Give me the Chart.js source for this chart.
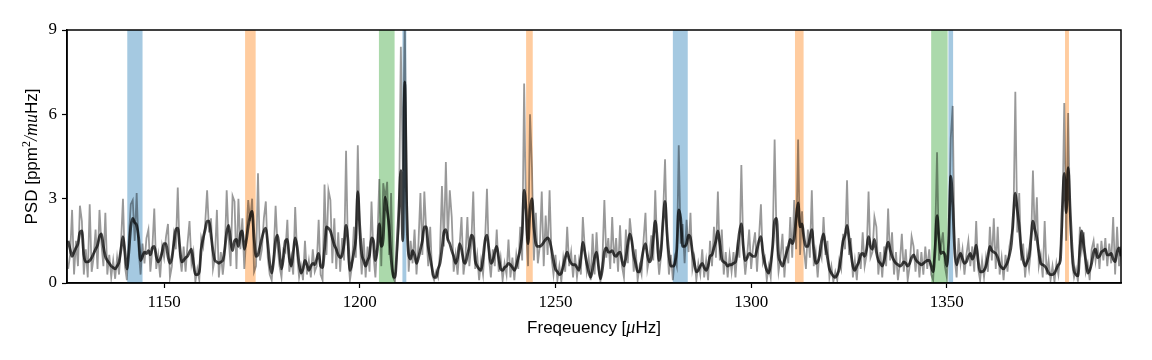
<!DOCTYPE html>
<html>
<head>
<meta charset="utf-8">
<script src="https://cdn.jsdelivr.net/npm/chart.js@4"></script>
<style>
  body { margin: 0; background: #fff; }
  canvas { display: block; }
</style>
</head>
<body>
<canvas id="psdChart" width="1152" height="360"></canvas>
<script>
// frequency grid of the spectrum (uHz)
const freqStart = 1125.5;
const freqStep = 0.5;

// raw PSD, one row per 10 uHz
const rawPsd = [
  0.5, 1.0, 2.6, 0.3, 1.5, 0.6, 2.75, 2.2, 0.3, 1.2, 0.2, 2.8, 0.4, 0.9, 1.9, 0.5, 2.6, 1.4, 0.6, 2.5,
  0.3, 1.0, 0.2, 0.8, 0.15, 0.9, 0.3, 1.4, 3.0, 0.6, 0.1, 1.6, 2.8, 2.95, 1.5, 3.2, 1.2, 0.3, 1.4, 0.7,
  1.6, 1.9, 0.4, 1.2, 2.65, 0.5, 1.0, 0.2, 1.3, 0.9, 1.65, 2.1, 0.2, 0.6, 1.7, 1.2, 3.4, 1.0, 0.4, 1.3,
  0.4, 1.4, 2.2, 0.7, 1.1, 0.05, 0.5, 0.1, 1.6, 1.3, 2.1, 3.3, 1.8, 2.3, 0.5, 0.9, 2.6, 0.2, 1.1, 0.3,
  1.0, 3.3, 1.6, 0.6, 3.1, 2.9, 0.5, 3.0, 1.2, 2.3, 0.5, 1.6, 2.95, 2.2, 3.0, 0.4, 0.6, 3.9, 0.8, 1.2,
  2.3, 2.9, 0.9, 0.3, 0.1, 1.0, 2.75, 1.3, 0.6, 0.2, 1.2, 1.1, 2.25, 0.4, 0.9, 0.3, 2.7, 1.0, 0.2, 0.6,
  0.1, 1.5, 0.3, 0.8, 0.2, 1.2, 0.4, 0.6, 2.25, 0.3, 0.1, 3.5, 1.0, 3.3, 2.95, 0.7, 2.3, 0.5, 1.8, 0.4,
  1.6, 0.8, 4.7, 1.0, 0.1, 0.6, 2.0, 0.9, 4.9, 1.5, 0.3, 1.6, 0.2, 1.3, 0.4, 2.9, 1.0, 0.2, 1.5, 3.7,
  0.6, 3.55, 3.0, 3.6, 1.0, 3.2, 0.2, 0.05, 1.0, 2.0, 8.4, 4.0, 9.3, 3.5, 0.4, 1.5, 0.7, 1.9, 0.3, 1.4,
  3.2, 1.0, 3.25, 1.8, 0.6, 2.0, 0.3, 0.1, 0.4, 0.2, 1.1, 3.45, 1.3, 4.3, 1.5, 3.3, 2.35, 0.4, 1.0, 0.3,
  1.3, 2.35, 0.3, 0.9, 2.35, 0.6, 1.4, 3.25, 0.5, 1.0, 0.1, 0.8, 0.3, 1.4, 3.35, 0.9, 0.2, 1.2, 0.6, 1.9,
  0.4, 0.9, 0.1, 0.7, 0.3, 1.55, 0.2, 0.9, 0.1, 1.0, 0.5, 2.0, 0.8, 7.1, 2.0, 0.6, 6.0, 4.1, 0.8, 2.5,
  0.7, 1.3, 3.25, 0.6, 2.4, 1.0, 3.3, 0.9, 0.3, 1.0, 0.1, 0.6, 0.05, 0.9, 0.4, 2.0, 0.6, 1.1, 0.2, 1.0,
  0.2, 0.8, 0.3, 2.35, 1.2, 0.4, 0.9, 0.1, 1.75, 0.3, 1.8, 0.5, 0.05, 0.8, 2.95, 0.9, 1.6, 0.5, 2.35, 0.7,
  1.6, 0.4, 2.05, 0.6, 0.2, 1.9, 0.7, 2.3, 1.6, 0.4, 1.2, 0.1, 0.6, 0.3, 1.5, 2.5, 0.5, 0.9, 1.7, 0.8,
  3.3, 1.2, 0.3, 1.0, 2.4, 4.4, 1.5, 0.3, 1.0, 0.1, 0.9, 0.6, 4.9, 1.4, 2.1, 0.7, 2.25, 1.1, 2.5, 0.5,
  0.9, 0.1, 0.7, 0.3, 1.2, 0.2, 0.8, 0.1, 1.5, 0.6, 2.0, 0.9, 3.25, 0.8, 1.9, 0.3, 1.1, 0.2, 1.0, 0.4,
  1.1, 0.2, 1.3, 0.9, 4.2, 1.2, 0.3, 1.0, 1.9, 0.5, 1.3, 1.8, 0.4, 1.6, 2.8, 0.7, 0.9, 0.1, 0.6, 0.2,
  1.4, 5.1, 1.5, 0.4, 0.9, 1.75, 0.2, 1.3, 0.7, 2.35, 0.9, 2.95, 1.2, 5.1, 1.0, 2.55, 1.2, 0.5, 1.9, 0.9,
  3.3, 0.6, 1.1, 0.2, 1.2, 0.9, 2.35, 1.0, 1.5, 0.2, 0.6, 0.05, 0.4, 0.1, 0.8, 0.5, 1.75, 1.2, 3.65, 1.0,
  1.6, 0.2, 0.8, 0.1, 1.1, 0.5, 1.8, 0.6, 1.0, 3.25, 0.9, 1.1, 2.35, 2.0, 0.3, 1.1, 0.2, 1.3, 0.6, 2.65,
  0.8, 1.8, 0.3, 1.1, 0.1, 0.7, 1.75, 0.4, 1.2, 0.1, 0.6, 1.65, 1.3, 0.4, 1.2, 0.2, 1.1, 0.3, 1.3, 0.5,
  1.2, 0.3, 0.1, 1.5, 4.65, 0.8, 1.3, 1.8, 0.6, 0.2, 1.5, 5.15, 6.3, 0.9, 0.2, 1.6, 0.7, 1.2, 0.3, 1.0,
  1.5, 0.6, 1.3, 0.4, 2.2, 0.5, 0.1, 0.8, 0.2, 0.9, 0.4, 2.0, 0.8, 2.3, 0.5, 2.0, 0.3, 0.9, 0.1, 1.0,
  0.4, 1.3, 1.7, 2.0, 6.8, 1.8, 3.2, 0.8, 1.4, 0.2, 1.0, 0.5, 1.2, 4.0, 1.5, 3.05, 0.6, 1.0, 0.2, 2.2,
  0.3, 0.8, 0.1, 0.6, 0.05, 0.7, 0.3, 1.1, 2.0, 6.4, 1.5, 6.05, 2.2, 0.7, 0.2, 0.5, 0.05, 2.0, 1.2, 1.8,
  0.4, 0.7, 0.1, 1.2, 1.5, 0.8, 1.4, 0.5, 1.5, 0.8, 1.6, 0.6, 1.4, 0.7, 2.35, 0.3, 2.0, 0.6, 1.3
];

// smoothed PSD on the same grid
const smoothPsd = [
  1.5, 1.2, 0.95, 1.1, 1.25, 1.4, 1.8, 1.85, 1.0, 0.75, 0.75, 0.8, 0.9, 1.05, 1.2, 1.35, 1.65, 1.75, 1.3, 0.95,
  0.8, 0.7, 0.6, 0.55, 0.5, 0.6, 0.75, 1.2, 1.65, 1.1, 0.5, 1.1, 2.0, 2.3, 2.15, 2.05, 1.6, 0.8, 0.95, 1.1,
  1.05, 1.15, 1.0, 1.25, 1.3, 0.95, 0.75, 0.85, 1.1, 1.4, 1.4, 0.95, 0.7, 0.9, 1.4, 1.9, 1.95, 1.3, 0.75, 0.8,
  0.9, 0.95, 1.1, 1.2, 0.7, 0.3, 0.3, 0.4, 1.2, 1.6, 1.9, 2.2, 2.2, 1.7, 1.15, 0.8, 0.75, 0.7, 0.75, 0.8,
  1.2, 1.8, 2.05, 1.5, 1.15, 1.5, 1.55, 1.3, 1.75, 1.85, 1.2, 1.5, 2.0, 2.4, 2.55, 1.6, 0.95, 1.0, 1.3, 1.6,
  1.85, 1.95, 1.4, 0.7, 0.35, 0.8, 1.5, 1.7, 1.1, 0.5, 0.9, 1.5, 1.55, 0.9, 0.6, 1.1, 1.6, 1.3, 0.7, 0.35,
  0.5, 0.8, 0.65, 0.45, 0.6, 0.7, 0.65, 0.85, 1.05, 0.6, 0.55, 1.2, 2.0, 1.95, 1.85, 1.6, 1.35, 1.2, 1.0, 0.9,
  1.0, 1.4, 2.05, 1.5, 0.45, 0.7, 1.1, 1.6, 3.25, 2.0, 1.05, 0.8, 0.6, 0.8, 1.0, 1.6, 1.5, 0.8, 1.2, 2.1,
  1.3, 1.6, 3.05, 2.6, 2.0, 0.9, 0.3, 0.2, 1.2, 2.6, 4.0, 1.5, 7.15, 2.6, 1.0, 0.85, 1.15, 1.0, 0.7, 0.9,
  1.2, 1.5, 2.0, 2.0, 1.3, 0.9, 0.5, 0.2, 0.2, 0.5, 0.7, 1.2, 1.8, 1.9, 1.55, 1.4, 1.15, 0.95, 0.7, 0.9,
  1.4, 1.2, 0.8, 0.7, 1.0, 1.3, 1.7, 1.6, 0.8, 0.6, 0.5, 0.45, 0.9, 1.5, 1.7, 1.2, 0.7, 0.8, 1.1, 1.3,
  0.9, 0.5, 0.45, 0.55, 0.6, 0.7, 0.65, 0.55, 0.45, 0.6, 0.9, 1.2, 1.8, 3.3, 2.6, 1.4, 2.6, 3.0, 2.0, 1.4,
  1.3, 1.3, 1.35, 1.45, 1.55, 1.6, 1.5, 1.2, 0.8, 0.5, 0.4, 0.3, 0.35, 0.6, 0.9, 1.1, 0.85, 0.7, 0.65, 0.65,
  0.55, 0.45, 0.9, 1.45, 1.1, 0.7, 0.4, 0.2, 0.5, 0.9, 1.1, 0.6, 0.15, 0.5, 1.1, 1.25, 1.1, 1.1, 1.15, 1.0,
  0.95, 1.05, 1.1, 0.8, 0.6, 0.9, 1.4, 1.75, 1.5, 1.0, 0.7, 0.4, 0.4, 0.8, 1.2, 1.4, 1.0, 0.75, 0.9, 1.6,
  2.2, 1.6, 0.8, 1.2, 2.2, 2.9, 1.8, 1.0, 0.6, 0.6, 0.7, 1.2, 2.6, 2.3, 1.3, 1.3, 1.4, 1.7, 1.6, 1.1,
  0.7, 0.4, 0.45, 0.6, 0.7, 0.55, 0.45, 0.6, 0.95, 1.0, 1.25, 1.5, 1.85, 1.4, 0.85, 0.75, 0.7, 0.6, 0.65, 0.65,
  0.7, 0.75, 1.2, 1.8, 2.1, 1.3, 0.8, 0.9, 1.05, 1.0, 0.95, 0.95, 1.2, 1.5, 1.65, 1.1, 0.7, 0.45, 0.35, 0.7,
  1.3, 2.2, 2.3, 1.0, 0.75, 0.6, 0.8, 1.05, 1.3, 1.55, 1.4, 1.6, 2.3, 2.85, 2.0, 2.1, 1.6, 1.3, 1.3, 1.6,
  1.9, 1.2, 0.7, 0.75, 1.0, 1.5, 1.75, 1.3, 0.9, 0.5, 0.35, 0.25, 0.2, 0.3, 0.5, 1.0, 1.5, 1.7, 2.05, 1.6,
  1.05, 0.6, 0.45, 0.6, 0.75, 1.0, 1.05, 0.95, 1.2, 1.65, 1.3, 1.2, 1.55, 1.1, 0.8, 0.7, 0.6, 0.8, 1.2, 1.45,
  1.2, 0.95, 0.8, 0.7, 0.65, 0.6, 0.65, 0.75, 0.7, 0.6, 0.7, 0.9, 1.0, 0.85, 0.75, 0.7, 0.65, 0.7, 0.75, 0.8,
  0.8, 0.6, 0.4, 1.2, 2.4, 1.6, 1.05, 1.1, 1.0, 0.6, 1.6, 3.8, 2.8, 1.2, 0.65, 0.9, 1.05, 0.85, 0.7, 0.75,
  0.95, 1.05, 0.85, 1.0, 1.35, 0.8, 0.4, 0.4, 0.45, 0.6, 0.95, 1.3, 1.15, 1.1, 1.05, 0.9, 0.65, 0.55, 0.5, 0.6,
  0.75, 1.0, 1.4, 2.4, 3.2, 2.6, 2.0, 1.2, 0.8, 0.6, 0.75, 0.95, 1.6, 2.2, 1.9, 1.6, 1.1, 0.7, 0.65, 0.6,
  0.5, 0.35, 0.3, 0.3, 0.35, 0.5, 0.65, 0.8, 2.6, 3.9, 2.5, 4.1, 2.6, 1.2, 0.45, 0.3, 0.25, 1.2, 1.85, 1.3,
  0.8, 0.35, 0.45, 0.7, 1.1, 1.2, 0.9, 0.95, 1.1, 1.15, 1.2, 1.0, 1.0, 1.05, 0.85, 0.75, 1.1, 1.25, 0.95
];

// shaded mode regions (uHz)
const bandStart = [1140.6, 1170.7, 1204.9, 1210.9, 1242.5, 1280.0, 1311.2, 1346.0, 1350.4, 1380.2];
const bandEnd   = [1144.5, 1173.4, 1208.9, 1211.9, 1244.2, 1283.8, 1313.4, 1350.2, 1351.6, 1381.2];
const bandColor = ['blue', 'orange', 'green', 'blue', 'orange', 'blue', 'orange', 'green', 'blue', 'orange'];

const xTicks = [1150, 1200, 1250, 1300, 1350];
const yTicks = [0, 3, 6, 9];

const fills = {
  blue: 'rgba(31,119,180,0.4)',
  orange: 'rgba(255,127,14,0.4)',
  green: 'rgba(44,160,44,0.4)'
};

const rawPoints = rawPsd.map((v, i) => ({ x: freqStart + i * freqStep, y: v }));
const smoothPoints = smoothPsd.map((v, i) => ({ x: freqStart + i * freqStep, y: v }));

// shaded bands behind the spectrum
const bandsPlugin = {
  id: 'bands',
  beforeDatasetsDraw(chart) {
    const { ctx, chartArea, scales } = chart;
    ctx.save();
    bandStart.forEach((f0, i) => {
      const x0 = scales.x.getPixelForValue(f0);
      const x1 = scales.x.getPixelForValue(bandEnd[i]);
      ctx.fillStyle = fills[bandColor[i]];
      ctx.fillRect(x0, chartArea.top, x1 - x0, chartArea.bottom - chartArea.top);
    });
    ctx.restore();
  }
};

// frame + axis titles with mixed fonts
const frameAndTitles = {
  id: 'frameAndTitles',
  afterDraw(chart) {
    const { ctx, chartArea } = chart;
    ctx.save();
    ctx.strokeStyle = '#000';
    ctx.lineWidth = 1.5;
    ctx.strokeRect(chartArea.left, chartArea.top, chartArea.right - chartArea.left, chartArea.bottom - chartArea.top);

    const sans = '17px "Liberation Sans"';
    const ital = 'italic 18px "Liberation Serif"';
    const small = '12px "Liberation Serif"';
    ctx.fillStyle = '#000';
    ctx.textBaseline = 'alphabetic';

    const drawParts = (parts, cx, cy) => {
      let total = 0;
      parts.forEach(p => { ctx.font = p.font; total += ctx.measureText(p.text).width; });
      let x = cx - total / 2;
      parts.forEach(p => {
        ctx.font = p.font;
        ctx.fillText(p.text, x, cy + (p.dy || 0));
        x += ctx.measureText(p.text).width;
      });
    };

    // x title
    drawParts([
      { text: 'Freqeuency [', font: sans },
      { text: 'μ', font: ital },
      { text: 'Hz]', font: sans }
    ], (chartArea.left + chartArea.right) / 2, 333);

    // y title
    ctx.translate(37, (chartArea.top + chartArea.bottom) / 2);
    ctx.rotate(-Math.PI / 2);
    drawParts([
      { text: 'PSD [ppm', font: sans },
      { text: '2', font: small, dy: -7 },
      { text: '/', font: ital },
      { text: 'mu', font: ital },
      { text: 'Hz]', font: sans }
    ], 0, 0);
    ctx.restore();
  }
};

new Chart(document.getElementById('psdChart'), {
  type: 'line',
  data: {
    datasets: [
      {
        data: rawPoints,
        borderColor: 'rgba(0,0,0,0.4)',
        borderWidth: 1.8,
        pointRadius: 0,
        tension: 0,
        clip: 0
      },
      {
        data: smoothPoints,
        borderColor: 'rgba(0,0,0,0.72)',
        borderWidth: 2.8,
        pointRadius: 0,
        cubicInterpolationMode: 'monotone',
        clip: 0
      }
    ]
  },
  options: {
    responsive: false,
    animation: false,
    layout: { padding: { left: 0, right: 31, top: 30, bottom: 0 } },
    plugins: { legend: { display: false }, tooltip: { enabled: false } },
    scales: {
      x: {
        type: 'linear',
        min: 1125.2,
        max: 1394.5,
        afterFit(s) { s.height = 77; },
        afterBuildTicks(s) { s.ticks = xTicks.map(v => ({ value: v })); },
        grid: { drawOnChartArea: false, tickLength: 5, tickWidth: 1.2, tickColor: '#000' },
        border: { color: '#000', width: 1.5 },
        ticks: {
          color: '#000', font: { family: 'Liberation Serif', size: 17 }, padding: 4, maxRotation: 0,
          callback: v => String(v)
        }
      },
      y: {
        min: 0,
        max: 9,
        afterFit(s) { s.width = 67; },
        afterBuildTicks(s) { s.ticks = yTicks.map(v => ({ value: v })); },
        grid: { drawOnChartArea: false, tickLength: 5, tickWidth: 1.2, tickColor: '#000' },
        border: { color: '#000', width: 1.5 },
        ticks: {
          color: '#000', font: { family: 'Liberation Serif', size: 17 }, padding: 5,
          callback: v => String(v)
        }
      }
    }
  },
  plugins: [bandsPlugin, frameAndTitles]
});
</script>
</body>
</html>
